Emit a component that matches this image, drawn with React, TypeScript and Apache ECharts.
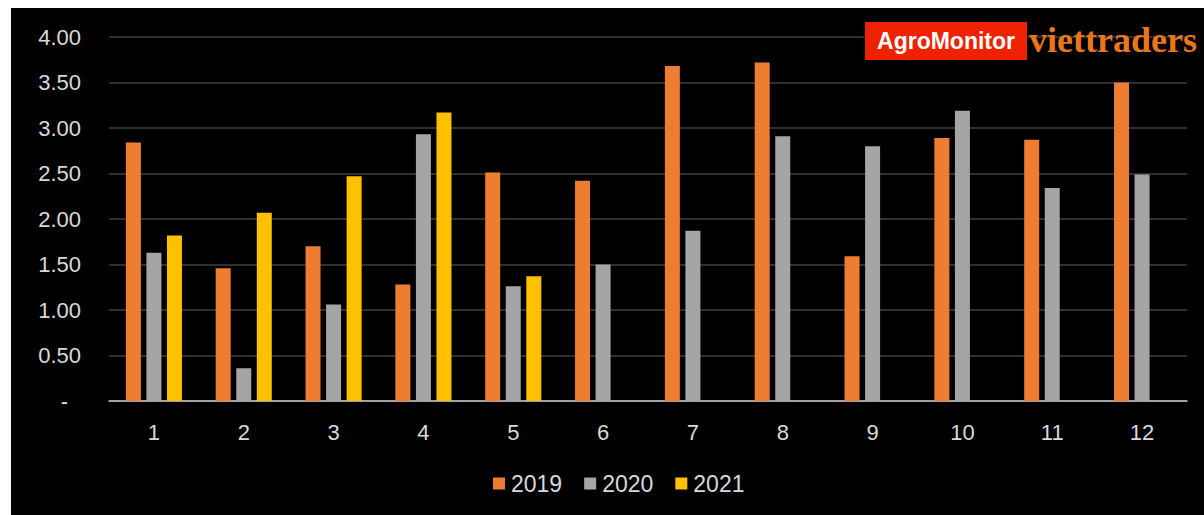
import React, { useEffect, useRef } from "react";
import * as echarts from "echarts";

const months = ["1", "2", "3", "4", "5", "6", "7", "8", "9", "10", "11", "12"];
const s2019 = [2.84, 1.46, 1.7, 1.28, 2.51, 2.42, 3.68, 3.72, 1.59, 2.89, 2.87, 3.5];
const s2020 = [1.63, 0.36, 1.06, 2.93, 1.26, 1.5, 1.87, 2.91, 2.8, 3.19, 2.34, 2.49];
const s2021 = [1.82, 2.07, 2.47, 3.17, 1.37, null, null, null, null, null, null, null];
const seriesNames = ["2019", "2020", "2021"];
const colors = ["#ED7D31", "#A5A5A5", "#FFC000"];

export default function App() {
  const ref = useRef<HTMLDivElement>(null);
  useEffect(() => {
    if (!ref.current) return;
    const chart = echarts.init(ref.current, undefined, { renderer: "svg" });
    const font = "'Liberation Sans', Arial, sans-serif";
    const dataSets = [s2019, s2020, s2021];
    chart.setOption({
      animation: false,
      backgroundColor: "#000000",
      textStyle: { fontFamily: font },
      grid: { left: 98, top: 29, right: 17, bottom: 114, containLabel: false },
      legend: {
        left: 477,
        top: 459,
        itemWidth: 12,
        itemHeight: 12,
        itemGap: 22,
        icon: "rect",
        textStyle: { color: "#d9d9d9", fontSize: 23, fontFamily: font, padding: [0, 0, 0, 1] },
        data: seriesNames,
      },
      xAxis: {
        type: "category",
        data: months,
        axisLine: { lineStyle: { color: "#c8c8c8", width: 1.5 } },
        axisTick: { show: false },
        axisLabel: { color: "#d9d9d9", fontSize: 22, margin: 20, fontFamily: font },
        splitLine: { show: false },
      },
      yAxis: {
        type: "value",
        min: 0,
        max: 4,
        interval: 0.5,
        axisLine: { show: false },
        axisTick: { show: false },
        splitLine: { lineStyle: { color: "#3f3f3f", width: 1.5 } },
        axisLabel: {
          color: "#d9d9d9",
          fontSize: 22,
          margin: 28,
          fontFamily: font,
          formatter: (v: number) => (v === 0 ? "{d|-}" : v.toFixed(2)),
          rich: { d: { color: "#d9d9d9", fontSize: 22, fontFamily: font, padding: [0, 13, 0, 0] } },
        },
      },
      series: seriesNames.map((n, i) => ({
        name: n,
        type: "bar",
        data: dataSets[i],
        barWidth: 15,
        barGap: "37%",
        itemStyle: { color: colors[i] },
      })),
      graphic: [
        {
          type: "rect",
          shape: { x: 854, y: 14, width: 162, height: 38 },
          style: { fill: "#EE2200" },
          z: 10,
        },
        {
          type: "text",
          x: 935,
          y: 33,
          style: {
            text: "AgroMonitor",
            fill: "#ffffff",
            font: `bold 23px ${font}`,
            align: "center",
            verticalAlign: "middle",
          },
          z: 11,
        },
        {
          type: "text",
          x: 1018,
          y: 32,
          style: {
            text: "viettraders",
            fill: "#E8771C",
            font: `bold 36px 'Liberation Serif', 'Times New Roman', serif`,
            align: "left",
            verticalAlign: "middle",
          },
          z: 11,
        },
      ],
    });
    return () => chart.dispose();
  }, []);
  return (
    <div style={{ position: "fixed", left: 0, top: 0, width: 1204, height: 515, background: "#ffffff" }}>
      <div ref={ref} style={{ position: "absolute", left: 11, top: 8, width: 1193, height: 507 }} />
    </div>
  );
}
